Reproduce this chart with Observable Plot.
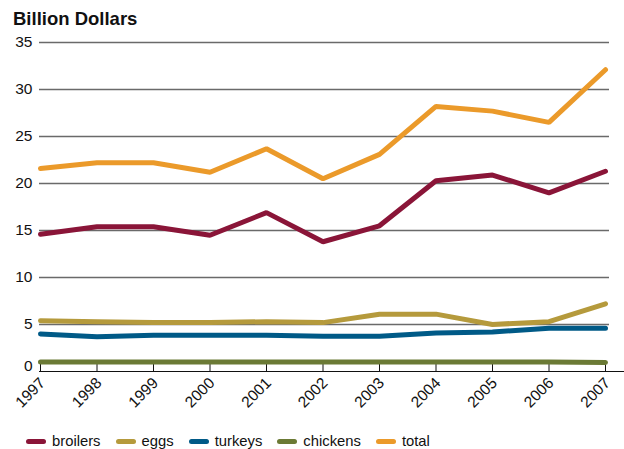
<!DOCTYPE html>
<html>
<head>
<meta charset="utf-8">
<script src="https://cdn.jsdelivr.net/npm/d3@7"></script>
<script src="https://cdn.jsdelivr.net/npm/@observablehq/plot@0.6"></script>
<style>
  html, body { margin: 0; padding: 0; background: #fff; }
  body { width: 624px; height: 449px; overflow: hidden; font-family: "Liberation Sans", Arial, sans-serif; }
  #title { height: 32px; box-sizing: border-box; padding: 9px 0 0 13px; font-weight: bold; font-size: 18.5px; color: #111; line-height: 20px; }
  #legend { display: flex; align-items: center; padding-left: 26px; margin-top: 3px; height: 22px; font-size: 14.8px; color: #111; }
  .item { display: flex; align-items: center; margin-right: 15px; }
  .sw { width: 20px; height: 5px; border-radius: 3px; margin-right: 6px; }
</style>
</head>
<body>
<div id="title">Billion Dollars</div>
<div id="chart"></div>
<div id="legend"></div>
<script>
const years    = [1997, 1998, 1999, 2000, 2001, 2002, 2003, 2004, 2005, 2006, 2007];
const broilers = [14.6, 15.4, 15.4, 14.5, 16.9, 13.8, 15.5, 20.3, 20.9, 19.0, 21.3];
const eggs     = [5.4, 5.3, 5.2, 5.2, 5.3, 5.2, 6.1, 6.1, 5.0, 5.3, 7.2];
const turkeys  = [4.0, 3.7, 3.85, 3.85, 3.85, 3.75, 3.75, 4.1, 4.2, 4.6, 4.6];
const chickens = [1.0, 1.0, 1.0, 1.0, 1.0, 1.0, 1.0, 1.0, 1.0, 1.0, 0.95];
const total    = [21.6, 22.2, 22.2, 21.2, 23.7, 20.5, 23.1, 28.2, 27.7, 26.5, 32.1];
const yTicks   = [0, 5, 10, 15, 20, 25, 30, 35];

const seriesNames  = ["broilers", "eggs", "turkeys", "chickens", "total"];
const seriesColors = ["#8a1538", "#b59a3c", "#005a87", "#6b7a35", "#eb9a2a"];
const seriesValues = [broilers, eggs, turkeys, chickens, total];

const data = seriesNames.flatMap((name, i) =>
  years.map((year, j) => ({series: name, year, value: seriesValues[i][j]})));

const chart = Plot.plot({
  width: 624,
  height: 395,
  marginTop: 10,
  marginBottom: 56,
  marginLeft: 39,
  marginRight: 15,
  style: {fontFamily: "'Liberation Sans', Arial, sans-serif", fontSize: "15px", color: "#111", background: "#fff"},
  x: {type: "linear", domain: [1997, 2007], insetLeft: 1, insetRight: 4},
  y: {domain: [0, 35]},
  color: {domain: seriesNames, range: seriesColors},
  marks: [
    Plot.ruleY(yTicks.filter(d => d > 0), {y: d => d, stroke: "#6a6a6a", strokeWidth: 1.6}),
    Plot.ruleY([0], {stroke: "#111", strokeWidth: 1.2, insetRight: -15}),
    Plot.axisY({ticks: yTicks.filter(d => d > 0), tickSize: 0, tickPadding: 7, label: null, fontSize: 15.5}),
    Plot.axisY({ticks: [0], tickSize: 0, tickPadding: 7, label: null, fontSize: 15.5, dy: -5}),
    Plot.axisX({ticks: years, tickSize: -10, tickFormat: () => "", label: null, stroke: "#111"}),
    Plot.axisX({ticks: years, tickSize: 0, tickPadding: 9, tickRotate: -45, tickFormat: d => String(d), label: null, fontSize: 15.5, dx: 2}),
    Plot.line(data, {x: "year", y: "value", z: "series", stroke: "series", strokeWidth: 5, strokeLinejoin: "miter", strokeLinecap: "round"})
  ]
});
document.getElementById("chart").appendChild(chart);

const legend = document.getElementById("legend");
seriesNames.forEach((name, i) => {
  const item = document.createElement("div");
  item.className = "item";
  const sw = document.createElement("div");
  sw.className = "sw";
  sw.style.background = seriesColors[i];
  const lab = document.createElement("span");
  lab.textContent = name;
  item.appendChild(sw);
  item.appendChild(lab);
  legend.appendChild(item);
});
</script>
</body>
</html>
